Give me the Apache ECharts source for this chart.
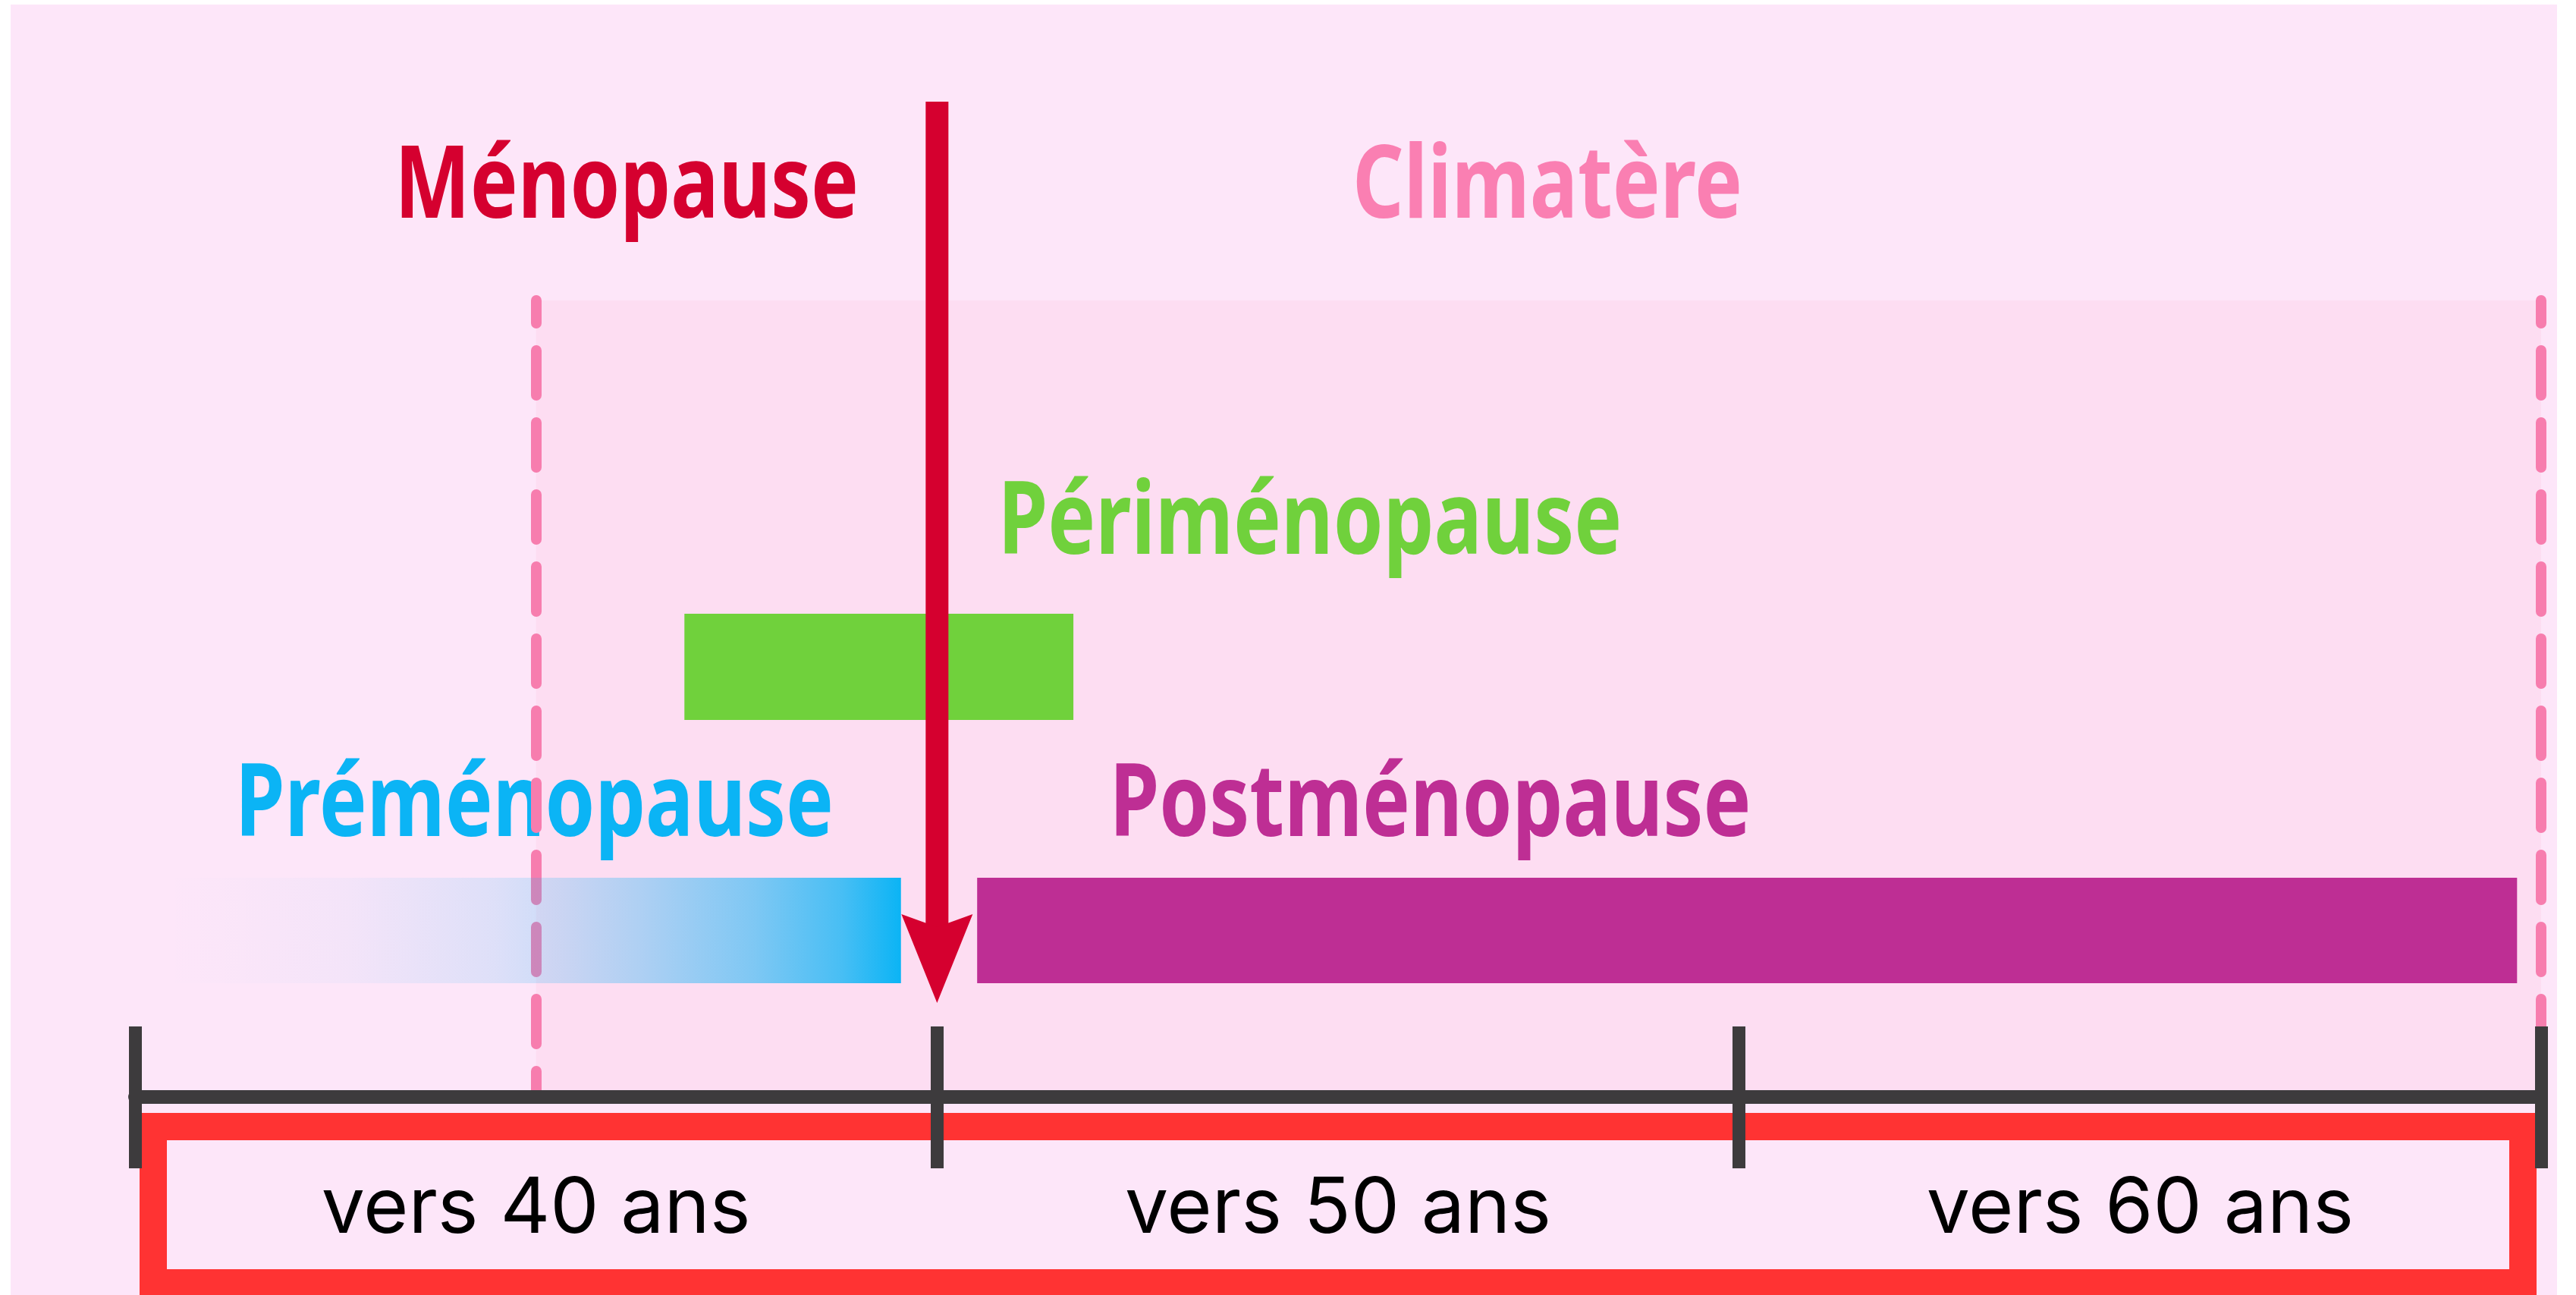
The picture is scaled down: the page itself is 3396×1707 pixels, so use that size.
<!DOCTYPE html>
<html>
<head>
<meta charset="utf-8">
<title>Ménopause - climatère</title>
<script src="https://cdn.jsdelivr.net/npm/echarts@6/dist/echarts.min.js"></script>
<style>
	html, body { margin: 0; padding: 0; background: #ffffff; }
	#chart { width: 3396px; height: 1707px; }
</style>
</head>
<body>
<div id="chart"></div>
<script>
// axe des âges
var ageLabels = ['vers 40 ans', 'vers 50 ans', 'vers 60 ans'];
var ageMin = 35;
var ageMax = 65;

// phases (début / fin en années)
var phases = ['Préménopause', 'Périménopause', 'Postménopause'];
var phaseStart = [35.35, 41.85, 45.5];
var phaseEnd = [44.55, 46.7, 64.7];

var menopauseAge = 45;
var climatere = [40, 65];

var H = 1312; // hauteur de la grille, en px au-dessus de l'axe
var rows = {//bas / haut de chaque barre
	'Préménopause': [150, 289],
	'Périménopause': [497, 637],
	'Postménopause': [150, 289]
};
var colors = {
	'Préménopause': '#0BB4F5',
	'Périménopause': '#70D13C',
	'Postménopause': '#BE2E94',
	'Ménopause': '#D5002F',
	'Climatère': '#FA7FB2'
};
var titres = [
	{ name: 'Ménopause', age: 41.13, base: 1158 },
	{ name: 'Climatère', age: 52.61, base: 1158 },
	{ name: 'Périménopause', age: 49.65, base: 715 },
	{ name: 'Préménopause', age: 39.98, base: 343 },
	{ name: 'Postménopause', age: 51.15, base: 343 }
];
var titreSize = 132;

function fondu(){//dégradé de la préménopause
	var stops = [[0, 0], [0.1, 0.01], [0.25, 0.04], [0.45, 0.13], [0.55, 0.22], [0.65, 0.33], [0.8, 0.52], [0.92, 0.75], [1, 1]];
	return {
		type: 'linear', x: 0, y: 0, x2: 1, y2: 0,
		colorStops: stops.map(function(s){
			return { offset: s[0], color: 'rgba(11,180,245,' + s[1] + ')' };
		})
	};
}

function renderPhase(params, api){
	var name = phases[params.dataIndex];
	var row = rows[name];
	var p0 = api.coord([api.value(0), row[1]]);
	var p1 = api.coord([api.value(1), row[0]]);
	return {
		type: 'rect',
		shape: { x: p0[0], y: p0[1], width: p1[0] - p0[0], height: p1[1] - p0[1] },
		style: { fill: name == 'Préménopause' ? fondu() : colors[name] }
	};
}

function renderTitre(params, api){
	var t = titres[params.dataIndex];
	var p = api.coord([api.value(0), api.value(1)]);
	return {
		type: 'text',
		x: p[0],
		y: p[1] - titreSize * 0.29,
		scaleX: 0.8,
		style: {
			text: t.name,
			fill: colors[t.name],
			fontSize: titreSize,
			fontWeight: 'bold',
			fontFamily: '"Noto Sans"',
			align: 'center',
			verticalAlign: 'middle'
		}
	};
}

function renderFleche(params, api){
	var top = api.coord([api.value(0), H]);
	var tip = api.coord([api.value(0), 124]);
	var x = tip[0], y = tip[1];
	var red = colors['Ménopause'];
	return {
		type: 'group',
		children: [
			{ type: 'rect', shape: { x: x - 15, y: top[1], width: 30, height: y - 95 - top[1] }, style: { fill: red } },
			{ type: 'polygon', shape: { points: [[x, y], [x - 47, y - 117], [x, y - 100], [x + 47, y - 117]] }, style: { fill: red } }
		]
	};
}

var chart = echarts.init(document.getElementById('chart'));
var option = {
	animation: false,
	backgroundColor: 'transparent',
	graphic: [
		{ type: 'rect', z: -10, silent: true, shape: { x: 14, y: 6, width: 3357, height: 1701 }, style: { fill: '#FDE6F9' } },
		{ type: 'rect', z: -5, silent: true, shape: { x: 202, y: 1485, width: 3124, height: 206 }, style: { fill: 'none', stroke: '#FF3333', lineWidth: 36 } }
	],
	grid: { left: 178, right: 46, top: 134, bottom: 261, outerBoundsMode: 'none' },
	xAxis: [
		{ type: 'value', min: ageMin, max: ageMax, show: false },
		{
			type: 'category', data: ageLabels, position: 'bottom', boundaryGap: true, z: 8,
			axisLine: { show: true, onZero: false, lineStyle: { color: '#3D3B3D', width: 18 } },
			axisTick: { show: true, inside: false, length: 94, lineStyle: { color: '#3D3B3D', width: 17 } },
			axisLabel: { show: true, interval: 0, margin: 148, verticalAlign: 'middle', color: '#000000', fontSize: 102, fontFamily: 'Inter' },
			splitLine: { show: false }
		},
		{
			type: 'category', data: ageLabels, position: 'bottom', boundaryGap: true, z: 8,
			axisLine: { show: false, onZero: false },
			axisTick: { show: true, inside: true, length: 93, lineStyle: { color: '#3D3B3D', width: 17 } },
			axisLabel: { show: false },
			splitLine: { show: false }
		}
	],
	yAxis: { type: 'value', min: 0, max: H, show: false },
	series: [
		{//climatère : zone + pointillés
			type: 'line', data: [], silent: true,
			markArea: {
				silent: true, z: 1,
				label: { show: false },
				itemStyle: { color: '#FDDDF2' },
				data: [[{ coord: [climatere[0], 9] }, { coord: [climatere[1], 1050] }]]
			},
			markLine: {
				silent: true, z: 3, symbol: 'none',
				label: { show: false },
				lineStyle: { color: '#F77DAE', width: 14, type: [59, 36], dashOffset: 29, cap: 'round' },
				data: climatere.map(function(a){ return [{ coord: [a, 1050] }, { coord: [a, 9] }]; })
			}
		},
		{
			type: 'custom', name: 'titres', z: 2, silent: true,
			renderItem: renderTitre,
			encode: { x: 0, y: 1 },
			data: titres.map(function(t){ return [t.age, t.base]; })
		},
		{
			type: 'custom', name: 'phases', z: 4, silent: true,
			renderItem: renderPhase,
			encode: { x: [0, 1] },
			data: phases.map(function(n, i){ return [phaseStart[i], phaseEnd[i]]; })
		},
		{
			type: 'custom', name: 'Ménopause', z: 5, silent: true,
			renderItem: renderFleche,
			encode: { x: 0 },
			data: [[menopauseAge]]
		}
	]
};
chart.setOption(option);
</script>
</body>
</html>
